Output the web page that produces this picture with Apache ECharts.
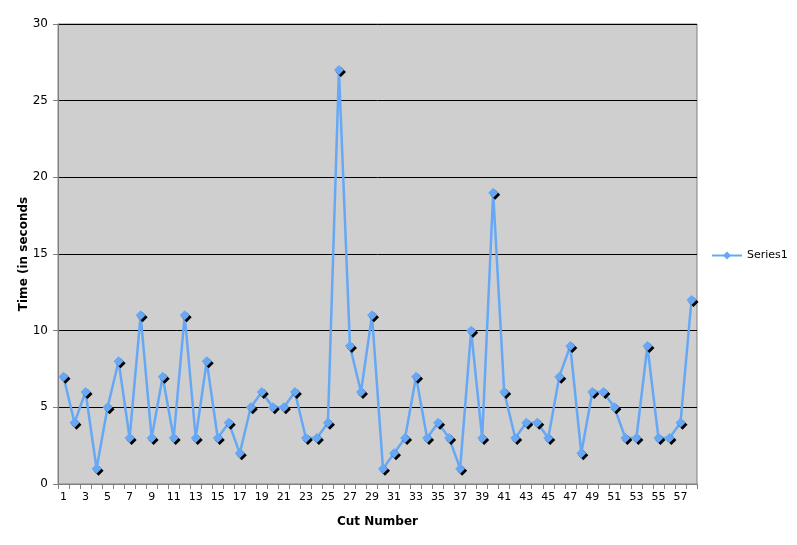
<!DOCTYPE html>
<html><head><meta charset="utf-8">
<script src="https://cdn.jsdelivr.net/npm/echarts@6/dist/echarts.min.js"></script>
<style>html,body{margin:0;padding:0;background:#fff}#c{width:797px;height:545px}</style>
</head><body><div id="c"></div>
<script>
const cutNumbers = [];
for (let i = 1; i <= 58; i++) cutNumbers.push(String(i));
const series1 = [7,4,6,1,5,8,3,11,3,7,3,11,3,8,3,4,2,5,6,5,5,6,3,3,4,27,9,6,11,1,2,3,7,3,4,3,1,10,3,19,6,3,4,4,3,7,9,2,6,6,5,3,3,9,3,3,4,12];
const yTicks = {min:0, max:30, interval:5};
const font = 'DejaVu Sans, Verdana, sans-serif';
const chart = echarts.init(document.getElementById('c'));
chart.setOption({
  animation:false,
  grid:{left:58, right:100, top:24, bottom:61, show:true, backgroundColor:'#CFCFCF', borderColor:'#808080', borderWidth:1},
  legend:{orient:'vertical', left:706, top:245, itemWidth:30, itemHeight:10, itemGap:4,
    textStyle:{fontFamily:font, fontSize:11, color:'#000'}, data:['Series1']},
  xAxis:{type:'category', data:cutNumbers, boundaryGap:true, name:'Cut Number', nameLocation:'middle', nameGap:32,
    nameTextStyle:{fontFamily:font, fontSize:12, fontWeight:'bold', color:'#000'},
    axisLine:{lineStyle:{color:'#808080'}}, axisTick:{show:true, interval:0, length:5, lineStyle:{color:'#808080'}},
    axisLabel:{interval:1, fontFamily:font, fontSize:11, color:'#000', margin:8}, splitLine:{show:false}},
  yAxis:{type:'value', min:yTicks.min, max:yTicks.max, interval:yTicks.interval, name:'Time (in seconds', nameLocation:'middle', nameGap:28, nameMoveOverlap:false,
    nameTextStyle:{fontFamily:font, fontSize:12, fontWeight:'bold', color:'#000'},
    axisLine:{show:true, lineStyle:{color:'#808080'}}, axisTick:{show:true, length:5, lineStyle:{color:'#808080'}},
    axisLabel:{fontFamily:font, fontSize:12, color:'#000', margin:10},
    splitLine:{show:true, lineStyle:{color:'#000', width:1}}},
  series:[{name:'Series1', type:'line', data:series1, symbol:'diamond', symbolSize:10, showAllSymbol:true,
    lineStyle:{color:'#66A8F5', width:2.5},
    itemStyle:{color:'#66A8F5', shadowColor:'#000', shadowOffsetX:2, shadowOffsetY:2, shadowBlur:0}}]
});
</script></body></html>
